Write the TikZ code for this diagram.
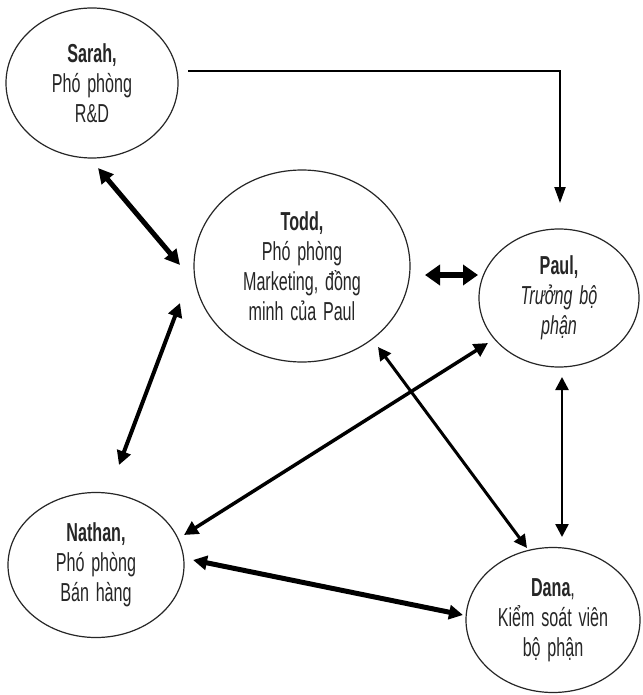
\documentclass[tikz,border=0pt]{standalone}
\usepackage{fontspec}
\setmainfont{Liberation Sans}[FakeStretch=0.62,WordSpace=1.5]
\usetikzlibrary{shapes.geometric,arrows.meta,calc}
\begin{document}
\begin{tikzpicture}[x=1pt,y=-1pt,
  person/.style={draw=black!85,line width=1.2pt,ellipse,inner sep=0pt,align=center,
    font=\fontsize{26}{30}\selectfont,text=black!85},
  link/.style={draw=black,line width=#1},
  head/.style={arrows={Triangle[length=#1,width=#1]-Triangle[length=#1,width=#1]}}
]
\useasboundingbox (0,0) rectangle (642,695);
\fill[white] (0,0) rectangle (642,695);

% people
\node[person,minimum width=172,minimum height=150] (sarah) at (92,83)
  {\textbf{Sarah,}\\Phó phòng\\R\&D};
\node[person,minimum width=216,minimum height=192] (todd) at (302,266)
  {\textbf{Todd,}\\Phó phòng\\Marketing, đồng\\minh của Paul};
\node[person,minimum width=160,minimum height=138] (paul) at (559,298)
  {\textbf{Paul,}\\\textit{Trưởng bộ}\\\textit{phận}};
\node[person,minimum width=176,minimum height=145] (nathan) at (96,565)
  {\textbf{Nathan,}\\Phó phòng\\Bán hàng};
\node[person,minimum width=174,minimum height=145] (dana) at (553,620)
  {\textbf{Dana},\\Kiểm soát viên\\bộ phận};

% relations
\draw[link=2pt,-{Triangle[length=16,width=11]}]
  ($(sarah)+(96,-12)$) -| ($(paul)+(1,-95)$);
\draw[link=5pt,head=15] ($(sarah)+(6,85)$) -- ($(todd)+(-122,-1)$);
\draw[link=6pt,arrows={Triangle[length=15,width=20]-Triangle[length=15,width=20]}]
  ($(todd)+(123,9)$) -- ($(paul)+(-81,-23)$);
\draw[link=4pt,head=14] ($(todd)+(-122,37)$) -- ($(nathan)+(23,-100)$);
\draw[link=3.5pt,head=14] ($(paul)+(-71,45)$) -- ($(nathan)+(88,-30)$);
\draw[link=3pt,head=13] ($(todd)+(76,81)$) -- ($(dana)+(-26,-72)$);
\draw[link=2.5pt,head=13] ($(paul)+(3,79)$) -- ($(dana)+(9,-83)$);
\draw[link=5pt,head=14] ($(nathan)+(97,-5)$) -- ($(dana)+(-90,-5)$);
\end{tikzpicture}
\end{document}
